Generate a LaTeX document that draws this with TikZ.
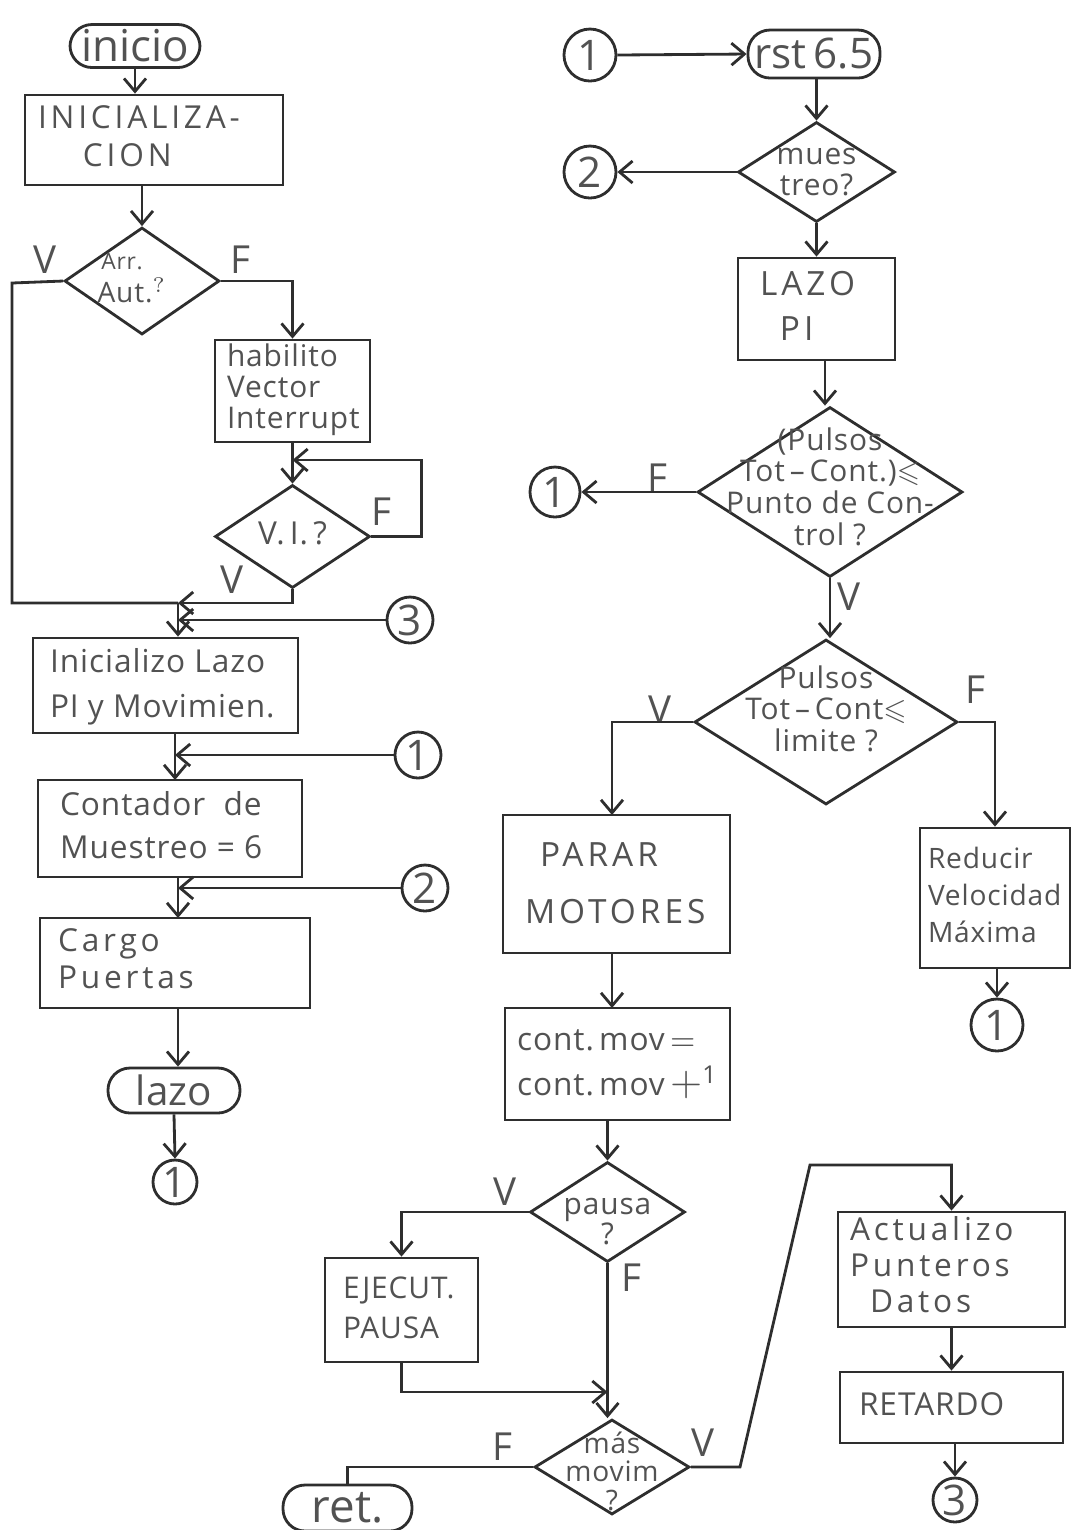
\documentclass[tikz,border=0pt]{standalone}
\usepackage{fontspec}
\usepackage{amssymb}
\setmainfont{Open Sans}[LetterSpace=3]
\usetikzlibrary{arrows.meta,shapes.geometric}

\definecolor{ink}{HTML}{2E2E2E}
\definecolor{pencil}{HTML}{525252}

% text inside a decision diamond does not enlarge the shape;
% the optional argument moves it up (+) or down (-)
\newcommand{\dtext}[2][0mm]{\smash{\raisebox{\dimexpr-0.9mm+#1\relax}{\makebox[0pt]{\begin{tabular}{@{}c@{}}#2\end{tabular}}}}}
% left-aligned lines in a box of fixed width (no wrapping)
\newcommand{\ltext}[2]{\makebox[#1][l]{\begin{tabular}{@{}l@{}}#2\end{tabular}}}
\newcommand{\fs}[2]{\fontsize{#1}{#2}\selectfont}
\newcommand{\wide}{\addfontfeature{LetterSpace=12}}
\newcommand{\tight}{\addfontfeature{LetterSpace=0}}

\tikzset{
  flow/.style={draw=ink, line width=0.8pt, text=pencil},
  proc/.style={flow, rectangle, inner ysep=0pt},
  term/.style={flow, rectangle, rounded corners=2.2mm, inner sep=0pt, font=\fs{12}{14}\tight},
  dec/.style={flow, diamond, inner sep=0pt},
  conn/.style={flow, circle, inner sep=0pt, font=\fs{12}{14}},
  tf/.style={text=pencil, inner sep=1pt, font=\fs{11}{13}},
  wire/.style={draw=ink, line width=0.8pt},
  arr/.style={wire, -{Straight Barb[length=1.3mm,width=2.2mm]}},
}

\begin{document}
\begin{tikzpicture}[x=0.1mm,y=-0.1mm]
\useasboundingbox (0,0) rectangle (1073,1530);

% ---------------- main program ----------------
\node[term, minimum width=13mm, minimum height=4.3mm, font=\fs{12.5}{14}\tight] (ini) at (135,46) {inicio};
\node[proc, inner xsep=1.3mm, minimum width=25.8mm, minimum height=9mm, font=\fs{9}{10.8}] (init) at (154,140)
  {\ltext{23.2mm}{\wide INICIALIZA-\\\wide\hspace*{4.5mm}CION}};
\node[dec, minimum width=15.5mm, minimum height=10.7mm, font=\fs{8}{8.5}] (arr) at (142,281)
  {\dtext[0.3mm]{\hspace*{-4mm}{\fs{6.5}{7}Arr.}\\\hspace*{-2mm}Aut.$^{?}$}};
\node[tf] (aV) at (45,260) {V};
\node[tf] (aF) at (240,260) {F};

\node[proc, inner xsep=1.2mm, minimum width=15.5mm, minimum height=10.2mm, font=\fs{8.5}{8.8}] (hab) at (292.5,391)
  {\ltext{13.1mm}{habilito\\Vector\\Interrupt}};
\node[dec, minimum width=15.5mm, minimum height=10.3mm, font=\fs{9}{10}] (vi) at (292.5,536.5)
  {\dtext{V.\,I.\,?}};
\node[tf] (vF) at (381,512) {F};
\node[tf] (vV) at (232,580) {V};

\coordinate (j1) at (178,603);
\coordinate (lft) at (12,283);

\node[proc, inner xsep=1.7mm, minimum width=26.5mm, minimum height=9.5mm, font=\fs{9}{12.8}] (ilz) at (165.5,685.5)
  {\ltext{23.1mm}{Inicializo Lazo\\PI y Movimien.}};
\node[proc, inner xsep=2.2mm, minimum width=26.4mm, minimum height=9.7mm, font=\fs{9}{12.2}] (con) at (170,828.5)
  {\ltext{22mm}{Contador\ \ de\\Muestreo = 6}};
\node[proc, inner xsep=1.8mm, minimum width=27mm, minimum height=9mm, font=\fs{9}{10.5}] (car) at (175,963)
  {\ltext{23.4mm}{\wide Cargo\\\wide Puertas}};
\node[term, minimum width=13.2mm, minimum height=4.5mm, font=\fs{11.5}{13}\tight] (lazo) at (174,1090.5) {lazo};
\node[conn, minimum size=4.4mm] (o1a) at (175,1182) {1};

\node[conn, minimum size=4.6mm] (o3a) at (410,620) {3};
\node[conn, minimum size=4.6mm] (o1b) at (418,755) {1};
\node[conn, minimum size=4.6mm] (o2a) at (425,888) {2};

% connectors, main program
\draw[arr] (ini.south) -- (ini.south |- init.north);
\draw[arr] (arr.north |- init.south) -- (arr.north);
\draw[wire] (arr.west) -- (lft) -- (lft |- j1) -- (j1);
\draw[arr] (arr.east) -| (hab.north);
\draw[arr] (hab.south) -- (vi.north);
\draw[arr] (vi.east) -- ++(50,0) |- (hab.south |- 0,460);
\draw[arr] (vi.south) |- (j1);
\draw[arr] (j1) -- (j1 |- ilz.north);
\draw[arr] (o3a.west) -- (j1 |- o3a.west);
\draw[arr] (175,733) -- (175,780);
\draw[arr] (o1b.west) -- (175,755);
\draw[arr] (178,877) -- (178,918);
\draw[arr] (o2a.west) -- (178,888);
\draw[arr] (178,1008) -- (lazo.north -| 178,0);
\draw[arr] (lazo.south) -- (o1a.north);

% ---------------- interrupt routine ----------------
\node[conn, minimum size=5.2mm] (r1) at (590,55) {1};
\node[term, minimum width=13.2mm, minimum height=4.8mm, font=\fs{12}{14}\tight] (rst) at (814,54) {rst\,6.5};
\node[dec, minimum width=15.7mm, minimum height=10mm, font=\fs{8.5}{8.6}] (mues) at (816.5,172)
  {\dtext{mues\\treo?}};
\node[conn, minimum size=5.2mm] (r2) at (590,172) {2};
\node[proc, inner xsep=2.2mm, minimum width=15.7mm, minimum height=10.2mm, font=\fs{9.5}{12.8}] (lpi) at (816.5,309)
  {\ltext{11.3mm}{\wide LAZO\\\wide\hspace*{2mm}PI}};
\node[dec, minimum width=26.5mm, minimum height=17mm, font=\fs{8.5}{8.8}] (cp) at (830,492)
  {\dtext[0.3mm]{(Pulsos\\Tot\,--\,Cont.)$\leqslant$\\Punto de Con-\\trol ?}};
\node[conn, minimum size=5mm] (r1b) at (555,492) {1};
\node[tf] (cF) at (657,478) {F};
\node[tf] (cV) at (849,597) {V};
\node[dec, minimum width=26.3mm, minimum height=16.5mm, font=\fs{8.5}{8.8}] (lim) at (826,722)
  {\dtext[1.1mm]{Pulsos\\Tot\,--\,Cont$\leqslant$\\limite ?}};
\node[tf] (lV) at (660,710) {V};
\node[tf] (lF) at (975,690) {F};

\node[proc, inner xsep=2.2mm, minimum width=22.7mm, minimum height=13.8mm, font=\fs{9.5}{16.2}] (par) at (616.5,884)
  {\ltext{18.3mm}{\wide\hspace*{1.5mm}PARAR\\\wide MOTORES}};
\node[proc, inner xsep=0.8mm, minimum width=15mm, minimum height=14mm, font=\fs{8}{10.5}] (red) at (995,898)
  {\ltext{13.4mm}{Reducir\\Velocidad\\Máxima}};
\node[conn, minimum size=5.2mm] (r1c) at (997,1025) {1};

\node[proc, inner xsep=1.2mm, minimum width=22.5mm, minimum height=11.2mm, font=\fs{9}{12.8}] (cm) at (617.5,1064)
  {\ltext{20.1mm}{cont.\,mov\,$=$\\cont.\,mov\,{\large$+$}\raisebox{0.7ex}{\fs{7}{8}1}}};
\node[dec, minimum width=15.5mm, minimum height=10mm, font=\fs{8.5}{8}] (pau) at (607.5,1212)
  {\dtext[-1mm]{pausa\\?}};
\node[tf] (pV) at (505,1192) {V};
\node[tf] (pF) at (631,1278) {F};
\node[proc, inner xsep=1.8mm, minimum width=15.3mm, minimum height=10.4mm, font=\fs{8.5}{11.4}] (ej) at (401.5,1310)
  {\ltext{11.7mm}{EJECUT.\\PAUSA}};
\coordinate (j2) at (607.5,1392);
\node[dec, minimum width=15.5mm, minimum height=9.5mm, font=\fs{8}{7.7}] (mas) at (612,1467)
  {\dtext[-0.6mm]{más\\movim\\?}};
\node[tf] (mF) at (502,1447) {F};
\node[tf] (mV) at (703,1443) {V};
\node[term, minimum width=12.9mm, minimum height=4.6mm, font=\fs{13}{15}\tight] (ret) at (347.5,1508) {ret.};

\node[proc, inner xsep=1.2mm, minimum width=22.7mm, minimum height=11.5mm, font=\fs{9}{10.2}] (act) at (951.5,1269.5)
  {\ltext{20.3mm}{\wide Actualizo\\\wide Punteros\\\wide\hspace*{2mm}Datos}};
\node[proc, inner xsep=1.9mm, minimum width=22.3mm, minimum height=7.1mm, font=\fs{9}{11}] (rtd) at (951.5,1407.5)
  {\ltext{18.5mm}{RETARDO}};
\node[conn, minimum size=4.4mm] (r3) at (955,1500) {3};

% connectors, interrupt routine
\draw[arr] (r1.east) -- (rst.west);
\draw[arr] (mues.north |- rst.south) -- (mues.north);
\draw[arr] (mues.west) -- (r2.east);
\draw[arr] (mues.south) -- (mues.south |- lpi.north);
\draw[arr] (825,360) -- (cp.north -| 825,0);
\draw[arr] (cp.west) -- (r1b.east);
\draw[arr] (cp.south) -- (cp.south |- lim.north);
\draw[arr] (lim.west) -- (612,722) -- (612,815);
\draw[arr] (lim.east) -- (995,722) -- (red.north);
\draw[arr] (red.south -| r1c.north) -- (r1c.north);
\draw[arr] (612,953) -- (612,1008);
\draw[arr] (pau.north |- cm.south) -- (pau.north);
\draw[arr] (pau.west) -| (ej.north);
\draw[arr] (pau.south) -- (pau.south |- mas.north);
\draw[arr] (ej.south) |- (j2);
\draw[wire] (mas.west) -| (ret.north);
\draw[arr] (mas.east) -- (740,1467) -- (810,1165) -| (act.north);
\draw[arr] (act.south) -- (rtd.north);
\draw[arr] (rtd.south -| r3.north) -- (r3.north);
\end{tikzpicture}
\end{document}
